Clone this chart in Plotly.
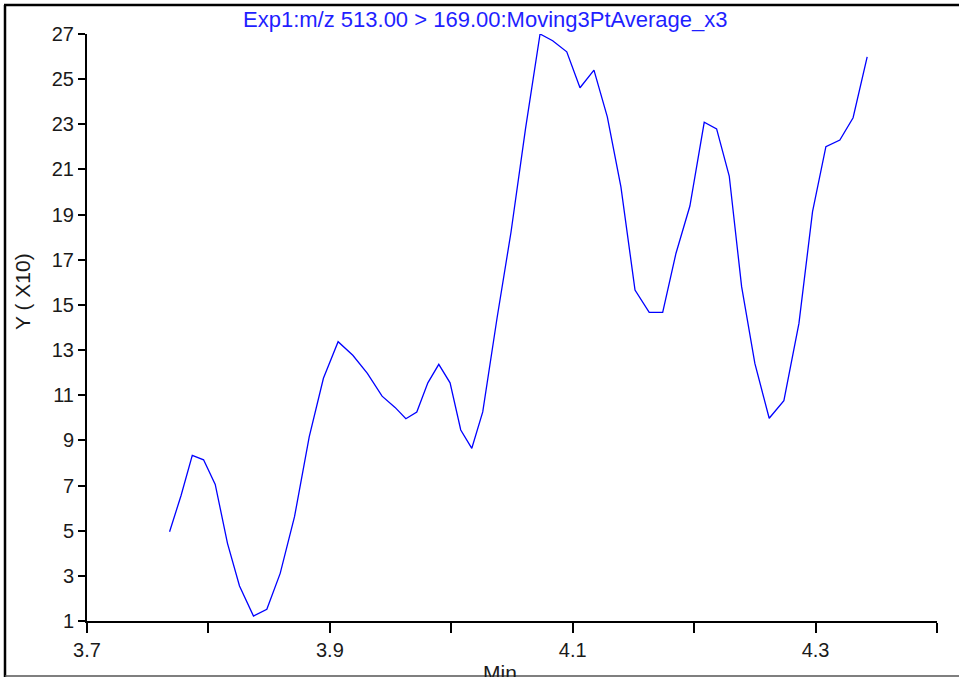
import plotly.graph_objects as go

# Retention time (min) and intensity (Y, in units of X10)
time_min = [3.7680, 3.7774, 3.7867, 3.7960, 3.8056, 3.8157, 3.8256, 3.8371, 3.8481, 3.8591,
            3.8709, 3.8830, 3.8947, 3.9068, 3.9189, 3.9309, 3.9430, 3.9537, 3.9626, 3.9716,
            3.9807, 3.9897, 3.9990, 4.0078, 4.0169, 4.0259, 4.0377, 4.0492, 4.0612, 4.0731,
            4.0835, 4.0951, 4.1060, 4.1175, 4.1285, 4.1397, 4.1513, 4.1630, 4.1741, 4.1850,
            4.1965, 4.2083, 4.2185, 4.2289, 4.2391, 4.2500, 4.2618, 4.2739, 4.2863, 4.2975,
            4.3085, 4.3200, 4.3309, 4.3425]
intensity = [4.95, 6.55, 8.34, 8.14, 7.05, 4.44, 2.55, 1.22, 1.52, 3.11,
             5.62, 9.16, 11.75, 13.37, 12.77, 11.97, 10.96, 10.46, 9.96, 10.26,
             11.55, 12.37, 11.55, 9.46, 8.65, 10.26, 14.42, 18.23, 22.83, 27.00,
             26.70, 26.21, 24.62, 25.40, 23.33, 20.23, 15.66, 14.67, 14.67, 17.28,
             19.38, 23.09, 22.80, 20.71, 15.81, 12.41, 9.98, 10.76, 14.18, 19.13,
             22.01, 22.30, 23.29, 25.99]

x_tick_vals = [3.7, 3.8, 3.9, 4.0, 4.1, 4.2, 4.3, 4.4]
x_tick_text = ["3.7", "", "3.9", "", "4.1", "", "4.3", ""]
y_tick_vals = [1, 3, 5, 7, 9, 11, 13, 15, 17, 19, 21, 23, 25, 27]

title_text = "Exp1:m/z 513.00 > 169.00:Moving3PtAverage_x3"
y_title = "Y ( X10)"
x_title = "Min"

W, H = 959, 677
ML, MR, MT, MB = 87, 22, 34, 56
PW, PH = W - ML - MR, H - MT - MB


def px(xp):
    return (xp - ML) / PW


def py(yp):
    return (H - MB - yp) / PH


FONT = "Liberation Sans, Arial, sans-serif"
TXT = "#1a1a1a"

fig = go.Figure()
fig.add_trace(go.Scatter(x=time_min, y=intensity, mode="lines",
                         line=dict(color="#0000ff", width=1.3),
                         showlegend=False, hoverinfo="x+y"))

fig.update_layout(
    width=W, height=H,
    margin=dict(l=ML, r=MR, t=MT, b=MB, pad=0),
    paper_bgcolor="white", plot_bgcolor="white",
    font=dict(family=FONT, size=20, color=TXT),
    xaxis=dict(range=[3.7, 4.4], tickvals=x_tick_vals, ticktext=x_tick_text,
               showgrid=False, zeroline=False, showline=True, linecolor="black",
               linewidth=2, ticks="outside", ticklen=10, tickwidth=2, tickcolor="black",
               tickfont=dict(family=FONT, size=20, color=TXT)),
    yaxis=dict(range=[1, 27], tickvals=y_tick_vals,
               showgrid=False, zeroline=False, showline=True, linecolor="black",
               linewidth=2, ticks="outside", ticklen=7, tickwidth=2, tickcolor="black",
               ticklabelstandoff=0,
               tickfont=dict(family=FONT, size=20, color=TXT)),
    annotations=[
        dict(text=title_text, xref="paper", yref="paper", x=px(485), y=py(20),
             xanchor="center", yanchor="middle", showarrow=False,
             font=dict(family=FONT, size=22, color="#1f1fff")),
        dict(text=y_title, xref="paper", yref="paper", x=px(22), y=py(292),
             xanchor="center", yanchor="middle", textangle=-90, showarrow=False,
             font=dict(family=FONT, size=21, color=TXT)),
        dict(text=x_title, xref="paper", yref="paper", x=px(500), y=py(659),
             xanchor="center", yanchor="top", showarrow=False,
             font=dict(family=FONT, size=21, color=TXT)),
    ],
    shapes=[
        dict(type="line", xref="paper", yref="paper", x0=px(5), x1=px(5), y0=py(5), y1=py(677),
             line=dict(color="black", width=2.5)),
        dict(type="line", xref="paper", yref="paper", x0=px(4), x1=px(959), y0=py(5), y1=py(5),
             line=dict(color="black", width=2.5)),
        dict(type="line", xref="paper", yref="paper", x0=px(5), x1=px(959), y0=py(676), y1=py(676),
             line=dict(color="#555555", width=1.5)),
    ],
)

fig.write_html("out.html", config={"displayModeBar": False},
               post_script="document.body.style.margin='0';document.body.style.overflow='hidden';")
